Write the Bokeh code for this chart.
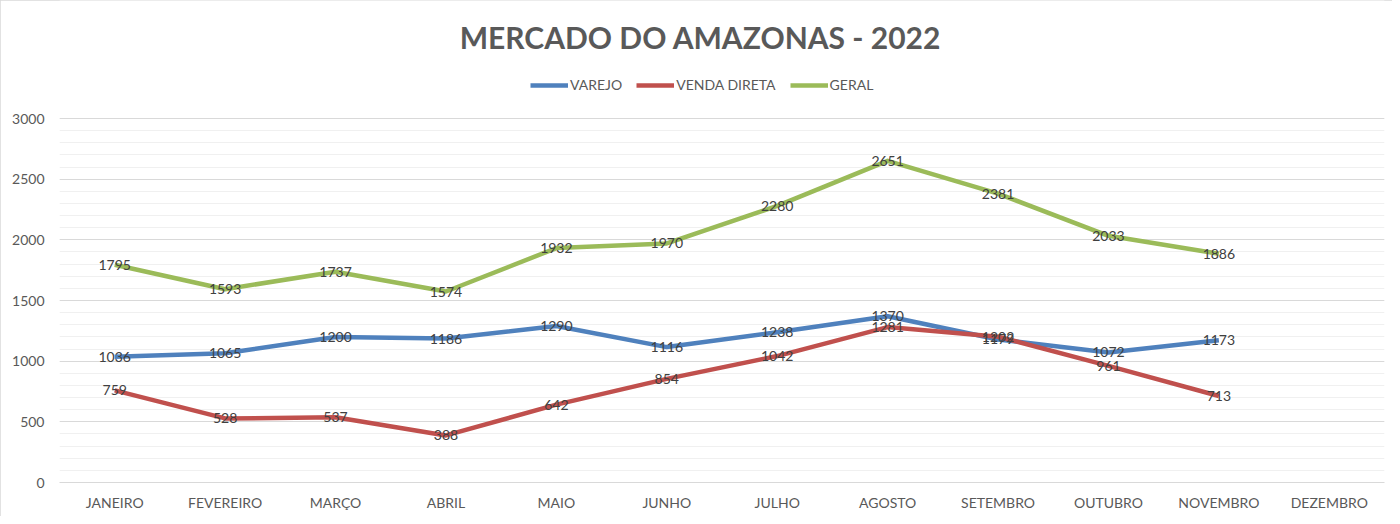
from bokeh.plotting import figure
from bokeh.models import (FactorRange, Range1d, ColumnDataSource, LabelSet, Label,
                          Legend, LegendItem, FixedTicker)
from bokeh.core.properties import value
from bokeh.embed import file_html
from bokeh.resources import INLINE

months = ["JANEIRO", "FEVEREIRO", "MARÇO", "ABRIL", "MAIO", "JUNHO", "JULHO",
          "AGOSTO", "SETEMBRO", "OUTUBRO", "NOVEMBRO", "DEZEMBRO"]
data_months = months[:11]
varejo = [1036, 1065, 1200, 1186, 1290, 1116, 1238, 1370, 1179, 1072, 1173]
venda_direta = [759, 528, 537, 388, 642, 854, 1042, 1281, 1202, 961, 713]
geral = [1795, 1593, 1737, 1574, 1932, 1970, 2280, 2651, 2381, 2033, 1886]
y_ticks = [0, 500, 1000, 1500, 2000, 2500, 3000]
y_minor = list(range(0, 3001, 100))

series = [("VAREJO", varejo, "#4F81BD"),
          ("VENDA DIRETA", venda_direta, "#C0504D"),
          ("GERAL", geral, "#9BBB59")]

FONT = "Lato"
Y_TOP = 3000 * 482 / 364  # room above the axis for title and legend

p = figure(width=1392, height=516, x_range=FactorRange(*months), y_range=Range1d(0, Y_TOP),
           output_backend="svg", toolbar_location=None,
           min_border_left=59, min_border_right=8, min_border_top=0, min_border_bottom=34)
p.outline_line_color = None
p.background_fill_color = "white"
p.border_fill_color = "white"
p.styles = {"outline": "1px solid #D9D9D9", "outline-offset": "-1px"}

p.yaxis.ticker = FixedTicker(ticks=y_ticks, minor_ticks=y_minor)
p.ygrid.grid_line_color = "#D9D9D9"
p.ygrid.minor_grid_line_color = "#F0F0F0"
p.xgrid.grid_line_color = None

for ax in (p.xaxis, p.yaxis):
    ax.major_tick_line_color = None
    ax.minor_tick_line_color = None
    ax.major_label_text_font = FONT
    ax.major_label_text_font_size = "14px"
    ax.major_label_text_color = "#595959"
p.yaxis.axis_line_color = None
p.xaxis.axis_line_color = "#D9D9D9"
p.yaxis.major_label_standoff = 9
p.xaxis.major_label_standoff = 5

items = []
for name, vals, color in series:
    src = ColumnDataSource(dict(x=data_months, y=vals))
    r = p.line("x", "y", source=src, line_color=color, line_width=4.5, line_join="round")
    items.append(LegendItem(label=name, renderers=[r]))

for name, vals, color in series:
    src = ColumnDataSource(dict(x=data_months, y=vals, t=[str(v) for v in vals]))
    p.add_layout(LabelSet(x="x", y="y", text="t", source=src, text_align="center",
                          text_baseline="middle", text_font=value(FONT), text_font_size="14px",
                          text_color="#404040"))

legend = Legend(items=items, orientation="horizontal", location=(471, 389),
                border_line_color=None, background_fill_alpha=0, padding=0, margin=0,
                label_text_font=FONT, label_text_font_size="14px", label_text_color="#595959",
                glyph_width=38, glyph_height=16, label_standoff=2, spacing=14)
p.add_layout(legend, "center")

p.add_layout(Label(x=5.806, y=3668, text="MERCADO DO AMAZONAS - 2022", text_align="center",
                   text_baseline="middle", text_font=FONT, text_font_size="30px",
                   text_font_style="bold", text_color="#595959"))

open("out.html", "w").write(file_html(p, INLINE))
